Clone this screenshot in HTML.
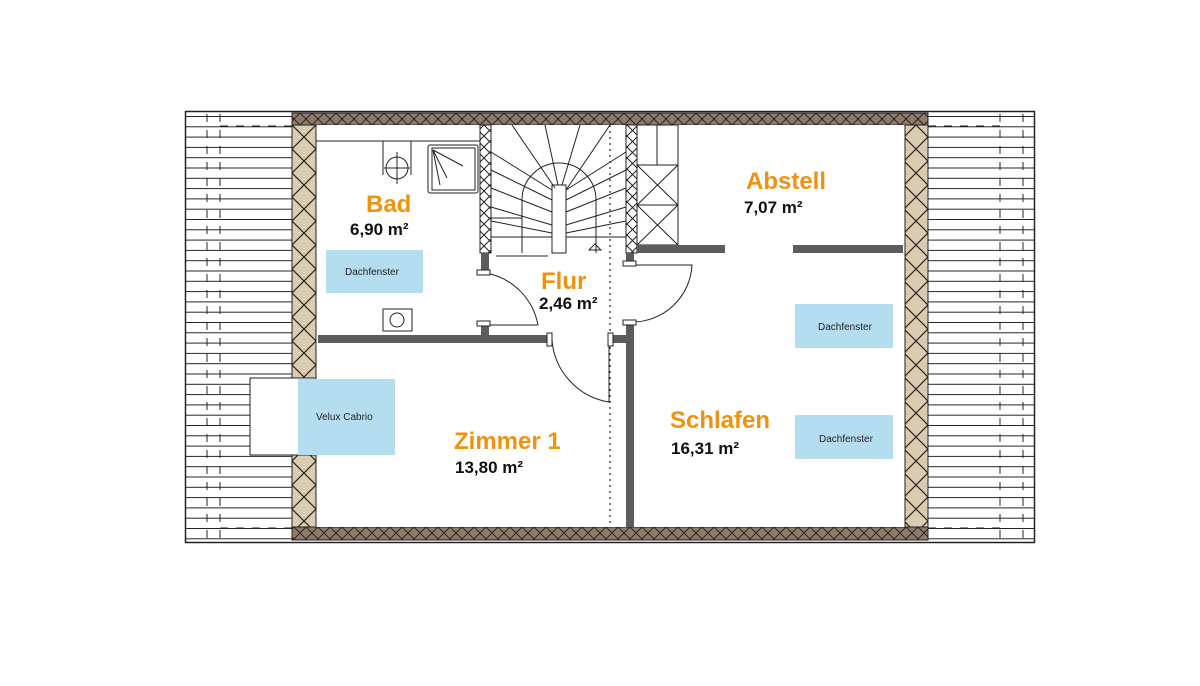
<!DOCTYPE html>
<html><head><meta charset="utf-8"><style>
html,body{margin:0;padding:0;background:#fff;width:1200px;height:686px;overflow:hidden}
svg{display:block}
text{font-family:"Liberation Sans",sans-serif}
.o{fill:#ef930f;font-weight:bold;font-size:24px}
.a{fill:#111;font-weight:bold;font-size:17px}
.d{fill:#222;font-size:10px}
</style></head><body>
<svg width="1200" height="686" viewBox="0 0 1200 686" xmlns="http://www.w3.org/2000/svg">
<defs>
<pattern id="roof" x="0" y="116" width="20" height="10.3" patternUnits="userSpaceOnUse">
<rect width="20" height="10.3" fill="#fff"/><line x1="0" y1="0.5" x2="20" y2="0.5" stroke="#222" stroke-width="1"/>
</pattern>
<pattern id="hatch" x="0" y="113" width="12" height="12" patternUnits="userSpaceOnUse">
<rect width="12" height="12" fill="#8e7b6b"/><path d="M0 0L12 12M12 0L0 12" stroke="#2a2420" stroke-width="1"/>
</pattern>
<pattern id="ins" x="292" y="125" width="24" height="24" patternUnits="userSpaceOnUse">
<rect width="24" height="24" fill="#d9ccb0"/><path d="M0 0L24 24M24 0L0 24" stroke="#2a2420" stroke-width="1.2"/>
</pattern>
<pattern id="xs" x="0" y="125" width="11" height="11" patternUnits="userSpaceOnUse">
<rect width="11" height="11" fill="#fff"/><path d="M0 0L11 11M11 0L0 11" stroke="#222" stroke-width="1"/>
</pattern>
</defs>
<!-- roof sides -->
<rect x="185" y="113" width="107" height="427" fill="url(#roof)"/>
<rect x="928" y="113" width="107" height="427" fill="url(#roof)"/>
<rect x="185.5" y="111.5" width="849" height="431" fill="none" stroke="#222" stroke-width="1.5"/>
<g stroke="#222" stroke-width="1" stroke-dasharray="8,8">
<line x1="207" y1="114" x2="207" y2="540"/><line x1="220" y1="114" x2="220" y2="540"/>
<line x1="220" y1="126" x2="292" y2="126"/><line x1="220" y1="528" x2="292" y2="528"/>
<line x1="1000" y1="114" x2="1000" y2="540"/><line x1="1023" y1="114" x2="1023" y2="540"/>
<line x1="928" y1="126" x2="1000" y2="126"/><line x1="928" y1="528" x2="1000" y2="528"/>
</g>
<!-- walls -->
<rect x="292" y="113" width="636" height="12" fill="url(#hatch)" stroke="#222"/>
<rect x="292" y="527" width="636" height="13" fill="url(#hatch)" stroke="#222"/>
<rect x="316" y="125" width="589" height="402" fill="#fff"/>
<rect x="292" y="125" width="24" height="402" fill="url(#ins)" stroke="#222"/>
<rect x="905" y="125" width="23" height="402" fill="url(#ins)" stroke="#222"/>
<line x1="316" y1="141" x2="480" y2="141" stroke="#222"/>
<!-- velux -->
<rect x="250" y="378" width="66" height="77" fill="#fff" stroke="#222"/>
<rect x="298" y="379" width="97" height="76" fill="#b4def0"/>
<text x="316" y="420" class="d">Velux Cabrio</text>
<!-- dachfenster -->
<rect x="326" y="250" width="97" height="43" fill="#b4def0"/>
<text x="345" y="275" class="d">Dachfenster</text>
<rect x="795" y="304" width="98" height="44" fill="#b4def0"/>
<text x="818" y="330" class="d">Dachfenster</text>
<rect x="795" y="415" width="98" height="44" fill="#b4def0"/>
<text x="819" y="442" class="d">Dachfenster</text>
<!-- stair walls -->
<rect x="480" y="125" width="11" height="128" fill="url(#xs)" stroke="#222"/>
<rect x="626" y="125" width="11" height="128" fill="url(#xs)" stroke="#222"/>
<!-- stairs -->
<g stroke="#222" stroke-width="1" fill="none">
<rect x="552" y="185" width="14" height="68"/>
<path d="M522 253V200A37 37 0 0 1 596 200V253"/>
<path d="M491 152L552 190M491 170L552 200M491 188L552 212M491 207L552 225M491 221L552 233M491 237L552 237M491 218L522 218"/>
<path d="M566 190L626 152M566 200L626 170M566 212L626 188M566 225L626 207M566 233L626 221M566 237L626 237"/>
<path d="M512 125L555 188M545 125L558 185M580 125L562 185M610 125L566 190"/>
<line x1="496" y1="256" x2="548" y2="256"/>
<path d="M595 244L589 250L601 250Z"/>
<!-- storage box -->
<rect x="637" y="125" width="41" height="120"/>
<line x1="657" y1="125" x2="657" y2="165"/>
<rect x="637" y="165" width="41" height="80"/>
<line x1="637" y1="205" x2="678" y2="205"/>
<path d="M637 165L678 205M678 165L637 205M637 205L678 245M678 205L637 245"/>
<!-- fixtures -->
<path d="M383 141V175M411 141V175"/><circle cx="397" cy="168" r="11"/><path d="M397 152V184M384 168H410"/>
<rect x="428" y="145" width="50" height="48" rx="2"/><rect x="432" y="148" width="43" height="42"/>
<path d="M433 150L463 166M433 150L447 178M433 150L440 185"/>
<rect x="383" y="309" width="29" height="22"/><circle cx="397" cy="320" r="7"/>
<!-- doors -->
<path d="M486 273A65 65 0 0 1 538 325H486"/>
<path d="M630 265H692A60 60 0 0 1 632 322"/>
<path d="M552 340A68 68 0 0 0 609 402V340"/>
</g>
<line x1="610" y1="125" x2="610" y2="527" stroke="#222" stroke-width="1.2" stroke-dasharray="2,4"/>
<!-- gray walls -->
<g fill="#5c5c5c">
<rect x="318" y="335" width="232" height="8"/>
<rect x="481" y="253" width="8" height="17"/>
<rect x="481" y="325" width="8" height="12"/>
<rect x="626" y="253" width="8" height="13"/>
<rect x="626" y="324" width="8" height="203"/>
<rect x="612" y="335" width="16" height="8"/>
<rect x="637" y="245" width="88" height="8"/>
<rect x="793" y="245" width="110" height="8"/>
</g>
<g fill="#fff" stroke="#222" stroke-width="1">
<rect x="477" y="270" width="13" height="5"/><rect x="477" y="321" width="13" height="5"/>
<rect x="623" y="261" width="13" height="5"/><rect x="623" y="320" width="13" height="5"/>
<rect x="547" y="333" width="5" height="13"/><rect x="608" y="333" width="5" height="13"/>
</g>
<!-- labels -->
<text x="366" y="212" class="o">Bad</text>
<text x="350" y="235" class="a">6,90 m²</text>
<text x="541" y="289" class="o">Flur</text>
<text x="539" y="309" class="a">2,46 m²</text>
<text x="746" y="189" class="o">Abstell</text>
<text x="744" y="213" class="a">7,07 m²</text>
<text x="454" y="449" class="o">Zimmer 1</text>
<text x="455" y="473" class="a">13,80 m²</text>
<text x="670" y="428" class="o">Schlafen</text>
<text x="671" y="454" class="a">16,31 m²</text>
</svg>
</body></html>
